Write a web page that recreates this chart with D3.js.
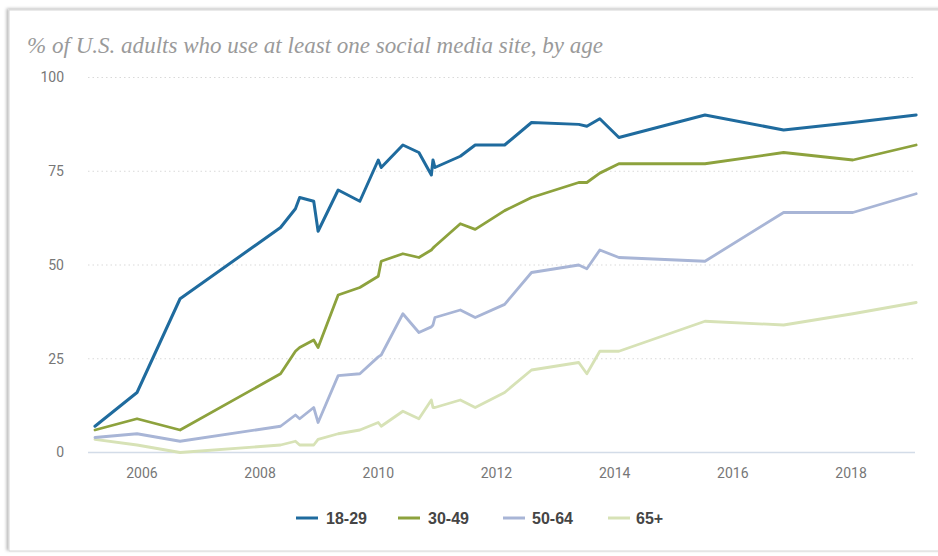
<!DOCTYPE html>
<html>
<head>
<meta charset="utf-8">
<script src="https://cdn.jsdelivr.net/npm/d3@7"></script>
<style>
  html, body { margin: 0; padding: 0; background: #fff; }
  svg { display: block; }
</style>
</head>
<body>
<svg id="chart" width="938" height="556"></svg>
<script>
// Survey dates (shared by all age groups)
const surveyDates = [
  "2005-03-20", "2005-12-05", "2006-08-28", "2008-05-10", "2008-08-10",
  "2008-09-05", "2008-12-01", "2008-12-28", "2009-05-01", "2009-09-12",
  "2010-01-04", "2010-01-22", "2010-06-05", "2010-09-12", "2010-11-28",
  "2010-12-08", "2010-12-20", "2011-05-26", "2011-08-26", "2012-02-24",
  "2012-08-08", "2013-05-27", "2013-07-16", "2013-10-04", "2014-01-30",
  "2015-07-16", "2016-11-13", "2018-01-15", "2019-02-10"
];

// Share of adults using at least one social media site, by age group (%)
const ages18to29 = [7, 16, 41, 60, 65, 68, 67, 59, 70, 67, 78, 76, 82, 80, 74, 78, 76, 79, 82, 82, 88, 87.5, 87, 89, 84, 90, 86, 88, 90];
const ages30to49 = [6, 9, 6, 21, 27, 28, 30, 28, 42, 44, 47, 51, 53, 52, 54, 54.5, 55, 61, 59.5, 64.5, 68, 72, 72, 74.5, 77, 77, 80, 78, 82];
const ages50to64 = [4, 5, 3, 7, 10, 9, 12, 8, 20.5, 21, 25.5, 26, 37, 32, 33.5, 34, 36, 38, 36, 39.5, 48, 50, 49, 54, 52, 51, 64, 64, 69];
const ages65plus = [3.5, 2, 0, 2, 3, 2, 2, 3.5, 5, 6, 8, 7, 11, 9, 14, 12, 12, 14, 12, 16, 22, 24, 21, 27, 27, 35, 34, 37, 40];

const seriesNames = ["18-29", "30-49", "50-64", "65+"];
const seriesColors = ["#1f6b9e", "#8da23d", "#a8b5d6", "#d7e2b6"];
const seriesValues = [ages18to29, ages30to49, ages50to64, ages65plus];

const yTicks = [0, 25, 50, 75, 100];
const xTickYears = [2006, 2008, 2010, 2012, 2014, 2016, 2018];

const titleText = "% of U.S. adults who use at least one social media site, by age";

const svg = d3.select("#chart");
const parse = d3.timeParse("%Y-%m-%d");
const dates = surveyDates.map(parse);

// Card with a soft shadow
const defs = svg.append("defs");
const shadow = defs.append("filter").attr("id", "cardShadow")
  .attr("x", "-5%").attr("y", "-5%").attr("width", "110%").attr("height", "110%");
shadow.append("feDropShadow")
  .attr("dx", -2).attr("dy", -1).attr("stdDeviation", 1.6)
  .attr("flood-color", "#000").attr("flood-opacity", 0.28);

svg.append("rect")
  .attr("x", 9).attr("y", 10).attr("width", 940).attr("height", 541)
  .attr("fill", "#fff").attr("stroke", "#d6d6d6").attr("stroke-width", 1)
  .attr("filter", "url(#cardShadow)");

// Plot geometry
const plotLeft = 88, plotRight = 915;
const x = d3.scaleTime()
  .domain([new Date(2006, 0, 1), new Date(2018, 0, 1)])
  .range([141.4, 850.6]);
const y = d3.scaleLinear().domain([0, 100]).range([452.5, 77.5]);

// Title
svg.append("text")
  .attr("x", 27).attr("y", 53)
  .attr("font-family", "'Liberation Serif', 'DejaVu Serif', serif")
  .attr("font-style", "italic")
  .attr("font-size", 23)
  .attr("fill", "#9a9a9a")
  .attr("textLength", 576)
  .attr("lengthAdjust", "spacingAndGlyphs")
  .text(titleText);

// Horizontal gridlines
const grid = svg.append("g");
grid.selectAll("line.grid")
  .data(yTicks.filter(d => d > 0))
  .join("line")
  .attr("class", "grid")
  .attr("x1", plotLeft).attr("x2", plotRight)
  .attr("y1", d => y(d)).attr("y2", d => y(d))
  .attr("stroke", "#d9d9d9").attr("stroke-width", 1)
  .attr("stroke-dasharray", "1.5,3");

// Baseline
svg.append("line")
  .attr("x1", plotLeft).attr("x2", plotRight)
  .attr("y1", y(0)).attr("y2", y(0))
  .attr("stroke", "#d3dce8").attr("stroke-width", 1.5);

// Y axis labels
const yAxis = d3.axisLeft(y).tickValues(yTicks).tickSize(0).tickPadding(0);
svg.append("g")
  .attr("transform", "translate(64,0)")
  .call(yAxis)
  .call(g => g.select(".domain").remove())
  .call(g => g.selectAll("text")
    .attr("font-family", "Roboto, 'Open Sans', sans-serif")
    .attr("font-size", 14)
    .attr("fill", "#777"));

// X axis labels
const xAxis = d3.axisBottom(x)
  .tickValues(xTickYears.map(yr => new Date(yr, 0, 1)))
  .tickFormat(d3.timeFormat("%Y"))
  .tickSize(0).tickPadding(0);
svg.append("g")
  .attr("transform", "translate(0,468)")
  .call(xAxis)
  .call(g => g.select(".domain").remove())
  .call(g => g.selectAll("text")
    .attr("font-family", "Roboto, 'Open Sans', sans-serif")
    .attr("font-size", 14)
    .attr("fill", "#777"));

// Lines (drawn oldest group first so the youngest sits on top)
const line = d3.line()
  .x((d, i) => x(dates[i]))
  .y(d => y(d));

const order = [3, 2, 1, 0];
svg.append("g")
  .selectAll("path")
  .data(order)
  .join("path")
  .attr("d", k => line(seriesValues[k]))
  .attr("fill", "none")
  .attr("stroke", k => seriesColors[k])
  .attr("stroke-width", k => k === 0 ? 3 : 2.8)
  .attr("stroke-linejoin", "round")
  .attr("stroke-linecap", "round");

// Legend
const legendItems = [
  { swatch: 296, label: 326 },
  { swatch: 398, label: 428 },
  { swatch: 503, label: 532 },
  { swatch: 608, label: 636 }
];
const legend = svg.append("g");
const items = legend.selectAll("g")
  .data(seriesNames)
  .join("g");
items.append("line")
  .attr("x1", (d, i) => legendItems[i].swatch)
  .attr("x2", (d, i) => legendItems[i].swatch + 22)
  .attr("y1", 518).attr("y2", 518)
  .attr("stroke", (d, i) => seriesColors[i])
  .attr("stroke-width", 3);
items.append("text")
  .attr("x", (d, i) => legendItems[i].label)
  .attr("y", 518)
  .attr("dy", "0.35em")
  .attr("font-family", "'Liberation Sans', Arial, sans-serif")
  .attr("font-weight", "bold")
  .attr("font-size", 16)
  .attr("fill", "#454545")
  .text(d => d);
</script>
</body>
</html>
